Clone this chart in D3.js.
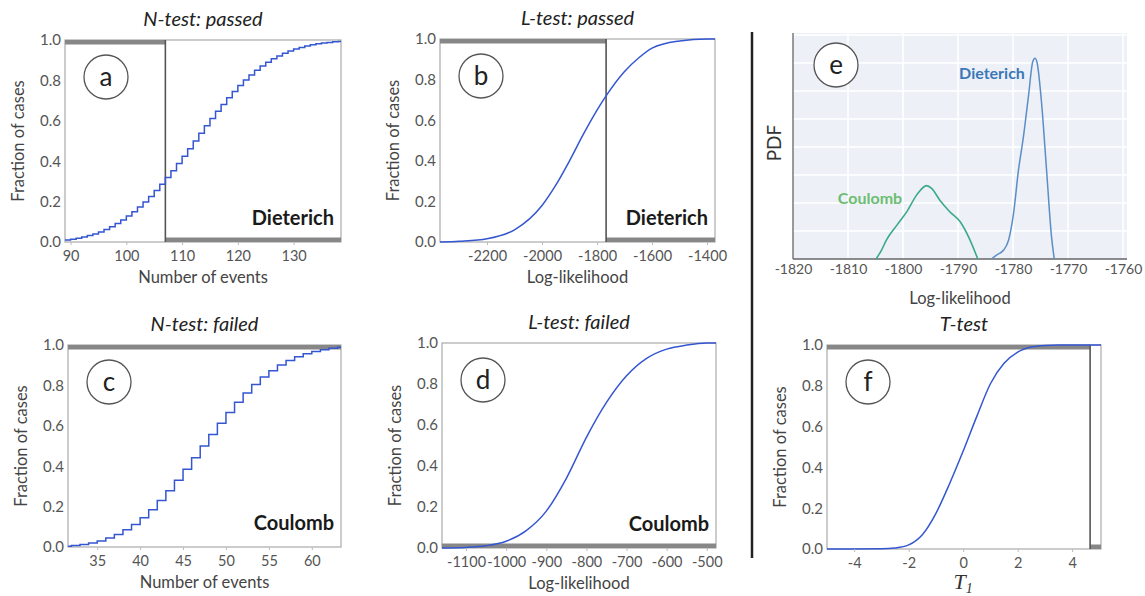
<!DOCTYPE html>
<html>
<head>
<meta charset="utf-8">
<script src="https://cdn.jsdelivr.net/npm/d3@7"></script>
<style>
  body { margin: 0; background: #fff; }
  svg { display: block; }
  text { font-family: Lato, "Open Sans", "Liberation Sans", sans-serif; }
</style>
</head>
<body>
<svg id="fig" width="1145" height="596"></svg>
<script>
// ---------- data ----------
// (a) N-test, Dieterich: cumulative fraction of simulated catalogues per event count
const aEvents = [89,90,91,92,93,94,95,96,97,98,99,100,101,102,103,104,105,106,107,108,109,110,111,112,113,114,115,116,117,118,119,120,121,122,123,124,125,126,127,128,129,130,131,132,133,134,135,136,137,138];
const aFraction = [0.010,0.014,0.019,0.025,0.032,0.040,0.050,0.062,0.076,0.091,0.109,0.129,0.150,0.173,0.198,0.225,0.255,0.286,0.319,0.353,0.389,0.425,0.462,0.500,0.538,0.575,0.611,0.647,0.681,0.714,0.745,0.775,0.802,0.827,0.850,0.871,0.890,0.907,0.921,0.934,0.946,0.955,0.963,0.970,0.976,0.981,0.985,0.988,0.991,0.993];
const aObserved = 107;
const aTicks = [90,100,110,120,130];

// (b) L-test, Dieterich
const bLogL = [-2371,-2300,-2200,-2100,-2000,-1950,-1900,-1850,-1800,-1767,-1700,-1650,-1600,-1500,-1400,-1371];
const bFraction = [0,0.004,0.016,0.06,0.18,0.28,0.40,0.53,0.65,0.72,0.84,0.905,0.955,0.99,1.0,1.0];
const bObserved = -1767;
const bTicks = [-2200,-2000,-1800,-1600,-1400];

// (c) N-test, Coulomb
const cEvents = [31,32,33,34,35,36,37,38,39,40,41,42,43,44,45,46,47,48,49,50,51,52,53,54,55,56,57,58,59,60,61,62,63];
const cFraction = [0.004,0.007,0.012,0.020,0.030,0.045,0.062,0.085,0.112,0.145,0.185,0.230,0.278,0.330,0.385,0.442,0.500,0.557,0.613,0.666,0.716,0.762,0.804,0.841,0.873,0.901,0.923,0.942,0.957,0.968,0.977,0.984,0.989];
const cTicks = [35,40,45,50,55,60];

// (d) L-test, Coulomb
const dLogL = [-1160,-1100,-1050,-1000,-950,-900,-850,-800,-750,-700,-650,-600,-550,-500,-477];
const dFraction = [0,0.003,0.011,0.033,0.085,0.18,0.34,0.54,0.71,0.84,0.925,0.97,0.99,1.0,1.0];
const dTicks = [-1100,-1000,-900,-800,-700,-600,-500];

// (e) log-likelihood densities
const coulombLogL = [-1804.9,-1803.9,-1803.0,-1801.1,-1799.3,-1797.5,-1795.7,-1794.8,-1793.3,-1791.5,-1789.6,-1788.1,-1786.4];
const coulombPdf = [0,0.32,0.68,1.21,1.69,2.29,2.62,2.52,2.10,1.69,1.33,0.80,0];
const dieterichLogL = [-1783.9,-1783.0,-1781.7,-1780.8,-1779.9,-1779.0,-1778.1,-1777.2,-1776.4,-1776.0,-1775.6,-1774.8,-1773.9,-1773.0,-1772.5];
const dieterichPdf = [0,0.14,0.32,0.68,1.63,3.18,4.37,5.80,7.05,7.17,6.99,5.56,3.18,0.80,0];
const eTicks = [-1820,-1810,-1800,-1790,-1780,-1770,-1760];

// (f) T-test
const fT = [-5,-3,-2.5,-2,-1.5,-1,-0.5,0,0.5,1,1.5,2,2.5,3,3.5,5.06];
const fFraction = [0,0.001,0.005,0.02,0.07,0.175,0.32,0.48,0.65,0.81,0.91,0.965,0.99,0.998,1,1];
const fObserved = 4.66;
const fTicks = [-4,-2,0,2,4];

const yTicks = [0,0.2,0.4,0.6,0.8,1.0];

// ---------- drawing ----------
const svg = d3.select('#fig');
const BLUE = '#3556d1';
const BAR = '#878787';
const fmtPlain = d => String(d);

function cdfPanel(p) {
  const g = svg.append('g');
  const x = d3.scaleLinear().domain(p.xDomain).range([p.x0, p.x1]);
  const y = d3.scaleLinear().domain([0, 1]).range([p.y1, p.y0]);
  const clipId = 'clip-' + p.id;
  svg.append('clipPath').attr('id', clipId)
    .append('rect').attr('x', p.x0).attr('y', p.y0 - 2)
    .attr('width', p.x1 - p.x0).attr('height', p.y1 - p.y0 + 4);

  // frame
  g.append('rect').attr('x', p.x0).attr('y', p.y0)
    .attr('width', p.x1 - p.x0).attr('height', p.y1 - p.y0)
    .attr('fill', 'none').attr('stroke', '#aaaaaa').attr('stroke-width', 1.2);

  // rejection bars along the top / bottom edges
  p.bars.forEach(b => {
    const xa = x(b[0]), xb = x(b[1]);
    g.append('rect').attr('x', Math.min(xa, xb)).attr('width', Math.abs(xb - xa))
      .attr('y', b[2] === 'top' ? p.y0 : p.y1 - 4.5).attr('height', 4.5)
      .attr('fill', BAR);
  });

  // observed value
  if (p.observed !== undefined) {
    g.append('line').attr('x1', x(p.observed)).attr('x2', x(p.observed))
      .attr('y1', p.y0).attr('y2', p.y1)
      .attr('stroke', '#555').attr('stroke-width', 1.6);
  }

  // cumulative curve
  let pts = p.xs.map((v, i) => [v, p.ys[i]]);
  if (p.step) pts.push([p.xDomain[1], p.ys[p.ys.length - 1]]);
  const line = d3.line().x(d => x(d[0])).y(d => y(d[1]))
    .curve(p.step ? d3.curveStepAfter : d3.curveMonotoneX);
  g.append('path').datum(pts).attr('d', line)
    .attr('fill', 'none').attr('stroke', BLUE).attr('stroke-width', 1.5)
    .attr('clip-path', `url(#${clipId})`);

  // axes
  const xa = g.append('g').attr('transform', `translate(0,${p.y1})`)
    .call(d3.axisBottom(x).tickValues(p.xTicks).tickFormat(fmtPlain).tickSize(3).tickPadding(6));
  xa.select('.domain').remove();
  xa.selectAll('line').attr('stroke', '#bbb');
  xa.selectAll('text').attr('fill', '#555').style('font-size', '14.5px');

  const ya = g.append('g').attr('transform', `translate(${p.x0},0)`)
    .call(d3.axisLeft(y).tickValues(yTicks).tickFormat(d3.format('.1f')).tickSize(0).tickPadding(4));
  ya.select('.domain').remove();
  ya.selectAll('text').attr('fill', '#555').style('font-size', '15px');

  // titles and labels
  const cx = (p.x0 + p.x1) / 2;
  g.append('text').attr('x', cx).attr('y', p.y0 - 14).attr('text-anchor', 'middle')
    .style('font-style', 'italic').style('font-size', '20px').attr('fill', '#222')
    .text(p.title);
  if (p.xLabel) {
    g.append('text').attr('x', cx).attr('y', p.y1 + 41).attr('text-anchor', 'middle')
      .style('font-size', '16.5px').attr('fill', '#444').text(p.xLabel);
  }
  g.append('text').attr('transform', `translate(${p.x0 - 41},${(p.y0 + p.y1) / 2}) rotate(-90)`)
    .attr('text-anchor', 'middle').style('font-size', '16.5px').attr('fill', '#444')
    .text('Fraction of cases');

  // model name
  if (p.model) {
    g.append('text').attr('x', p.x1 - 7).attr('y', p.y1 - 17).attr('text-anchor', 'end')
      .style('font-weight', 700).style('font-size', '20px').attr('fill', '#1a1a1a')
      .text(p.model);
  }
  panelBadge(p.x0 + 41, p.y0 + 37, p.id);
  return { g, x, y };
}

function panelBadge(cx, cy, letter) {
  svg.append('circle').attr('cx', cx).attr('cy', cy).attr('r', 22)
    .attr('fill', '#fff').attr('stroke', '#555').attr('stroke-width', 1.3);
  svg.append('text').attr('x', cx).attr('y', cy + 9).attr('text-anchor', 'middle')
    .style('font-size', '26px').attr('fill', '#222').text(letter);
}

cdfPanel({ id: 'a', x0: 65, x1: 341, y0: 40, y1: 242, xDomain: [89, 138.5],
  xs: aEvents, ys: aFraction, step: true, xTicks: aTicks, observed: aObserved,
  bars: [[89, aObserved, 'top'], [aObserved, 138.5, 'bottom']],
  title: 'N-test: passed', xLabel: 'Number of events', model: 'Dieterich' });

cdfPanel({ id: 'b', x0: 440, x1: 715, y0: 39, y1: 242, xDomain: [-2371, -1371],
  xs: bLogL, ys: bFraction, step: false, xTicks: bTicks, observed: bObserved,
  bars: [[-2371, bObserved, 'top'], [bObserved, -1371, 'bottom']],
  title: 'L-test: passed', xLabel: 'Log-likelihood', model: 'Dieterich' });

cdfPanel({ id: 'c', x0: 68, x1: 341, y0: 345, y1: 547, xDomain: [31.6, 63.4],
  xs: cEvents, ys: cFraction, step: true, xTicks: cTicks,
  bars: [[31.6, 63.4, 'top']],
  title: 'N-test: failed', xLabel: 'Number of events', model: 'Coulomb' });

cdfPanel({ id: 'd', x0: 442, x1: 716, y0: 343, y1: 548, xDomain: [-1160, -477],
  xs: dLogL, ys: dFraction, step: false, xTicks: dTicks,
  bars: [[-1160, -477, 'bottom']],
  title: 'L-test: failed', xLabel: 'Log-likelihood', model: 'Coulomb' });

cdfPanel({ id: 'f', x0: 827, x1: 1101, y0: 345, y1: 549, xDomain: [-5, 5.06],
  xs: fT, ys: fFraction, step: false, xTicks: fTicks, observed: fObserved,
  bars: [[-5, fObserved, 'top'], [fObserved, 5.06, 'bottom']],
  title: 'T-test', xLabel: null, model: null });

// T-test axis label: italic T with subscript 1
const tl = svg.append('text').attr('x', 963).attr('y', 589).attr('text-anchor', 'middle')
  .style('font-family', '"Liberation Serif", "DejaVu Serif", serif')
  .style('font-style', 'italic').style('font-size', '22px').attr('fill', '#333');
tl.append('tspan').text('T');
tl.append('tspan').attr('dy', 4).style('font-size', '14px').text('1');

// ---------- (e) density panel ----------
(function () {
  const x0 = 793, x1 = 1127, y0 = 33, y1 = 259;
  const x = d3.scaleLinear().domain([-1820, -1760]).range([x0, 1123]);
  const y = d3.scaleLinear().domain([0, 8]).range([y1, 35]);
  const g = svg.append('g');
  g.append('rect').attr('x', x0).attr('y', y0).attr('width', x1 - x0).attr('height', y1 - y0)
    .attr('fill', '#edf1f7');
  // grid
  g.selectAll('.vg').data(eTicks.slice(1)).enter().append('line')
    .attr('x1', d => x(d)).attr('x2', d => x(d)).attr('y1', y0).attr('y2', y1)
    .attr('stroke', '#fff').attr('stroke-width', 1.5);
  g.selectAll('.hg').data([1,2,3,4,5,6,7,8]).enter().append('line')
    .attr('x1', x0).attr('x2', x1).attr('y1', d => y(d)).attr('y2', d => y(d))
    .attr('stroke', '#fff').attr('stroke-width', 1.5);
  // axis lines
  g.append('line').attr('x1', x0).attr('x2', x0).attr('y1', y0).attr('y2', y1)
    .attr('stroke', '#666').attr('stroke-width', 1.3);
  g.append('line').attr('x1', x0).attr('x2', x1).attr('y1', y1).attr('y2', y1)
    .attr('stroke', '#666').attr('stroke-width', 1.3);

  const line = d3.line().x(d => x(d[0])).y(d => y(d[1])).curve(d3.curveMonotoneX);
  g.append('path').datum(coulombLogL.map((v, i) => [v, coulombPdf[i]])).attr('d', line)
    .attr('fill', 'none').attr('stroke', '#3aa98a').attr('stroke-width', 1.6);
  g.append('path').datum(dieterichLogL.map((v, i) => [v, dieterichPdf[i]])).attr('d', line)
    .attr('fill', 'none').attr('stroke', '#5b8ec6').attr('stroke-width', 1.5);

  const xa = g.append('g').attr('transform', `translate(0,${y1})`)
    .call(d3.axisBottom(x).tickValues(eTicks).tickFormat(fmtPlain).tickSize(0).tickPadding(5));
  xa.select('.domain').remove();
  xa.selectAll('text').attr('fill', '#555').style('font-size', '14px');

  g.append('text').attr('x', 960).attr('y', 304).attr('text-anchor', 'middle')
    .style('font-size', '16.5px').attr('fill', '#444').text('Log-likelihood');
  g.append('text').attr('transform', 'translate(781,143) rotate(-90)').attr('text-anchor', 'middle')
    .style('font-size', '19px').attr('fill', '#333').text('PDF');

  g.append('text').attr('x', 992).attr('y', 79).attr('text-anchor', 'middle')
    .style('font-weight', 700).style('font-size', '16px').attr('fill', '#3b78b8').text('Dieterich');
  g.append('text').attr('x', 870).attr('y', 204).attr('text-anchor', 'middle')
    .style('font-weight', 700).style('font-size', '16px').attr('fill', '#6cbd72').text('Coulomb');

  panelBadge(836, 65, 'e');
})();

// separator between the left and right columns
svg.append('line').attr('x1', 752).attr('x2', 752).attr('y1', 32).attr('y2', 558)
  .attr('stroke', '#222').attr('stroke-width', 2.5);
</script>
</body>
</html>
